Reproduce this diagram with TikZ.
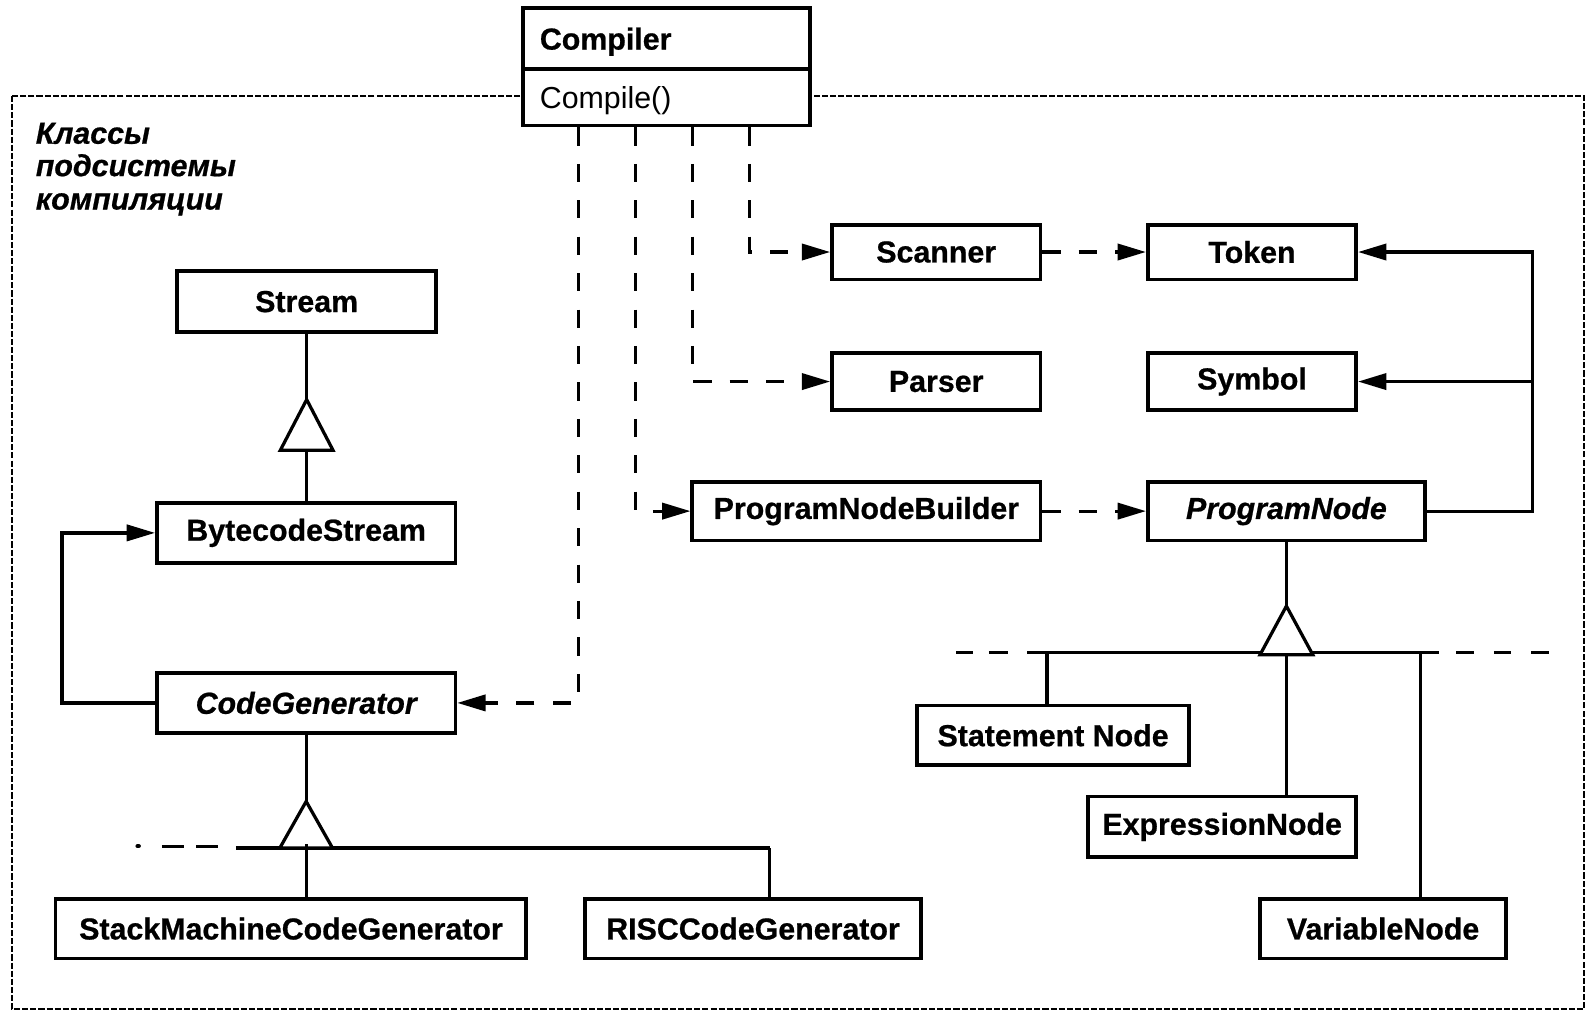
\documentclass[tikz,border=0pt]{standalone}
\usepackage{fontspec}
\setmainfont{Liberation Sans}[BoldFeatures={FakeBold=0.7}, BoldItalicFeatures={FakeBold=0.7}]
\usetikzlibrary{arrows.meta,calc}
\begin{document}
\begin{tikzpicture}[x=0.5pt,y=-0.5pt,
  cls/.style={draw, line width=1.8pt, fill=white, inner sep=0pt, font=\bfseries\fontsize{15}{18}\selectfont},
  con/.style={line width=1.6pt},
  dep/.style={line width=1.6pt, dash pattern=on 9pt off 9pt},
  tip/.style={-{Triangle[length=14pt,width=8pt]}},
  gen/.style={line width=1.6pt, fill=white, line join=miter},
  frame/.style={line width=0.8pt, dash pattern=on 3pt off 1pt},
  lbl/.style={anchor=base west, inner sep=0pt, font=\bfseries\itshape\fontsize{15}{18}\selectfont}
]
\useasboundingbox (0,0) rectangle (1568,1000);

% subsystem frame
\draw[frame] (12,95) rectangle (1565,997);
\node[lbl] (l1) at (35,142) {Классы};
\node[lbl] (l2) at (35,174) {подсистемы};
\node[lbl] (l3) at (35,207) {компиляции};

% Compiler
\node[draw, line width=1.8pt, fill=white, inner sep=0pt, minimum width=141.5pt, minimum height=58pt] (compiler) at (658.5,66) {};
\draw[line width=1.8pt] (compiler.west |- 0,68) -- (compiler.east |- 0,68);
\node[anchor=base west, inner sep=0pt, font=\bfseries\fontsize{15}{18}\selectfont] (compname) at (533,49) {Compiler};
\node[anchor=base west, inner sep=0pt, font=\fontsize{15}{18}\selectfont] (compop) at (533,107) {Compile()};

% classes
\node[cls, minimum width=128pt, minimum height=30pt] (stream) at (303,298) {Stream};
\node[cls, minimum width=147.5pt, minimum height=29.5pt] (bcs) at (302.5,526.5) {BytecodeStream};
\node[cls, minimum width=147.5pt, minimum height=29.5pt, font=\bfseries\itshape\fontsize{15}{18}\selectfont] (cg) at (302.5,694.5) {CodeGenerator};
\node[cls, minimum width=232.5pt, minimum height=29.5pt] (smcg) at (287.5,917.5) {StackMachineCodeGenerator};
\node[cls, minimum width=166pt, minimum height=29.5pt] (risc) at (744,917.5) {RISCCodeGenerator};

\node[cls, minimum width=103pt, minimum height=27pt] (scanner) at (925,249) {Scanner};
\node[cls, minimum width=103pt, minimum height=27pt] (token) at (1237,249) {Token};
\node[cls, minimum width=103pt, minimum height=28pt] (parser) at (925,377) {Parser};
\node[cls, minimum width=103pt, minimum height=28pt] (symbol) at (1237,377) {Symbol};
\node[cls, minimum width=172pt, minimum height=29pt] (pnb) at (856,505) {ProgramNodeBuilder};
\node[cls, minimum width=137pt, minimum height=29pt, font=\bfseries\itshape\fontsize{15}{18}\selectfont] (pn) at (1271,505) {ProgramNode};
\node[cls, minimum width=134.5pt, minimum height=29.5pt] (stmt) at (1040.5,726.5) {Statement Node};
\node[cls, minimum width=132.5pt, minimum height=30pt] (expr) at (1207.5,817) {ExpressionNode};
\node[cls, minimum width=121.5pt, minimum height=29.5pt] (var) at (1366.5,917.5) {VariableNode};

% dependencies from Compiler
\draw[dep,tip] ($(compiler.south west)+(225,0)$) |- (scanner.west);
\draw[dep,tip] ($(compiler.south west)+(169,0)$) |- (parser.west);
\draw[dep,tip] ($(compiler.south west)+(113,0)$) |- (pnb.west);
\draw[dep,tip] ($(compiler.south west)+(56,0)$) |- (cg.east);
\draw[dep,tip] (scanner.east) -- (token.west);
\draw[dep,tip] (pnb.east) -- (pn.west);

% ProgramNode associations
\draw[con,tip] (pn.east) -- ++(104,0) coordinate (bj) |- (token.east);
\draw[con,tip] (bj |- symbol.east) -- (symbol.east);

% CodeGenerator -> BytecodeStream
\draw[con,tip] (cg.west) -- ++(-92,0) |- (bcs.west);

% Stream generalization
\draw[con] (stream.south) -- ++(0,65) coordinate (t1);
\draw[gen] (t1) -- ++(26,50) -- ++(-52,0) -- cycle;
\draw[con] ($(t1)+(0,50)$) -- (bcs.north -| t1);

% CodeGenerator generalization
\draw[con] (cg.south) -- ++(0,66) coordinate (t2);
\draw[con] ($(t2)+(-69.5,46)$) -- ($(t2)+(458,46)$) coordinate (t2r);
\draw[gen] (t2) -- ++(26,46) -- ++(-52,0) -- cycle;
\draw[line width=2.2pt, line cap=round] (136,836) -- (137,836);
\draw[con] (160,836) -- (182,836);
\draw[con] (194,836) -- (215,836);
\draw[con] (smcg.north -| t2) -- ++(0,-52);
\draw[con] (risc.north -| t2r) -- (t2r);

% ProgramNode generalization
\draw[con] (pn.south) -- ++(0,63) coordinate (t3);
\draw[con] (1015,645) -- (1422,645);
\draw[gen] (t3) -- ++(26,48) -- ++(-52,0) -- cycle;
\draw[con] (945,645) -- (961,645);
\draw[con] (977,645) -- (996,645);
\draw[con] (1439,645) -- (1456,645);
\draw[con] (1476,645) -- (1493,645);
\draw[con] (1513,645) -- (1530,645);
\draw[con] ($(stmt.north)+(-6,0)$) -- ++(0,-52);
\draw[con] (expr.north -| t3) -- ($(t3)+(0,48)$);
\draw[con] ($(var.north)+(37,0)$) -- ++(0,-243);
\end{tikzpicture}
\end{document}
